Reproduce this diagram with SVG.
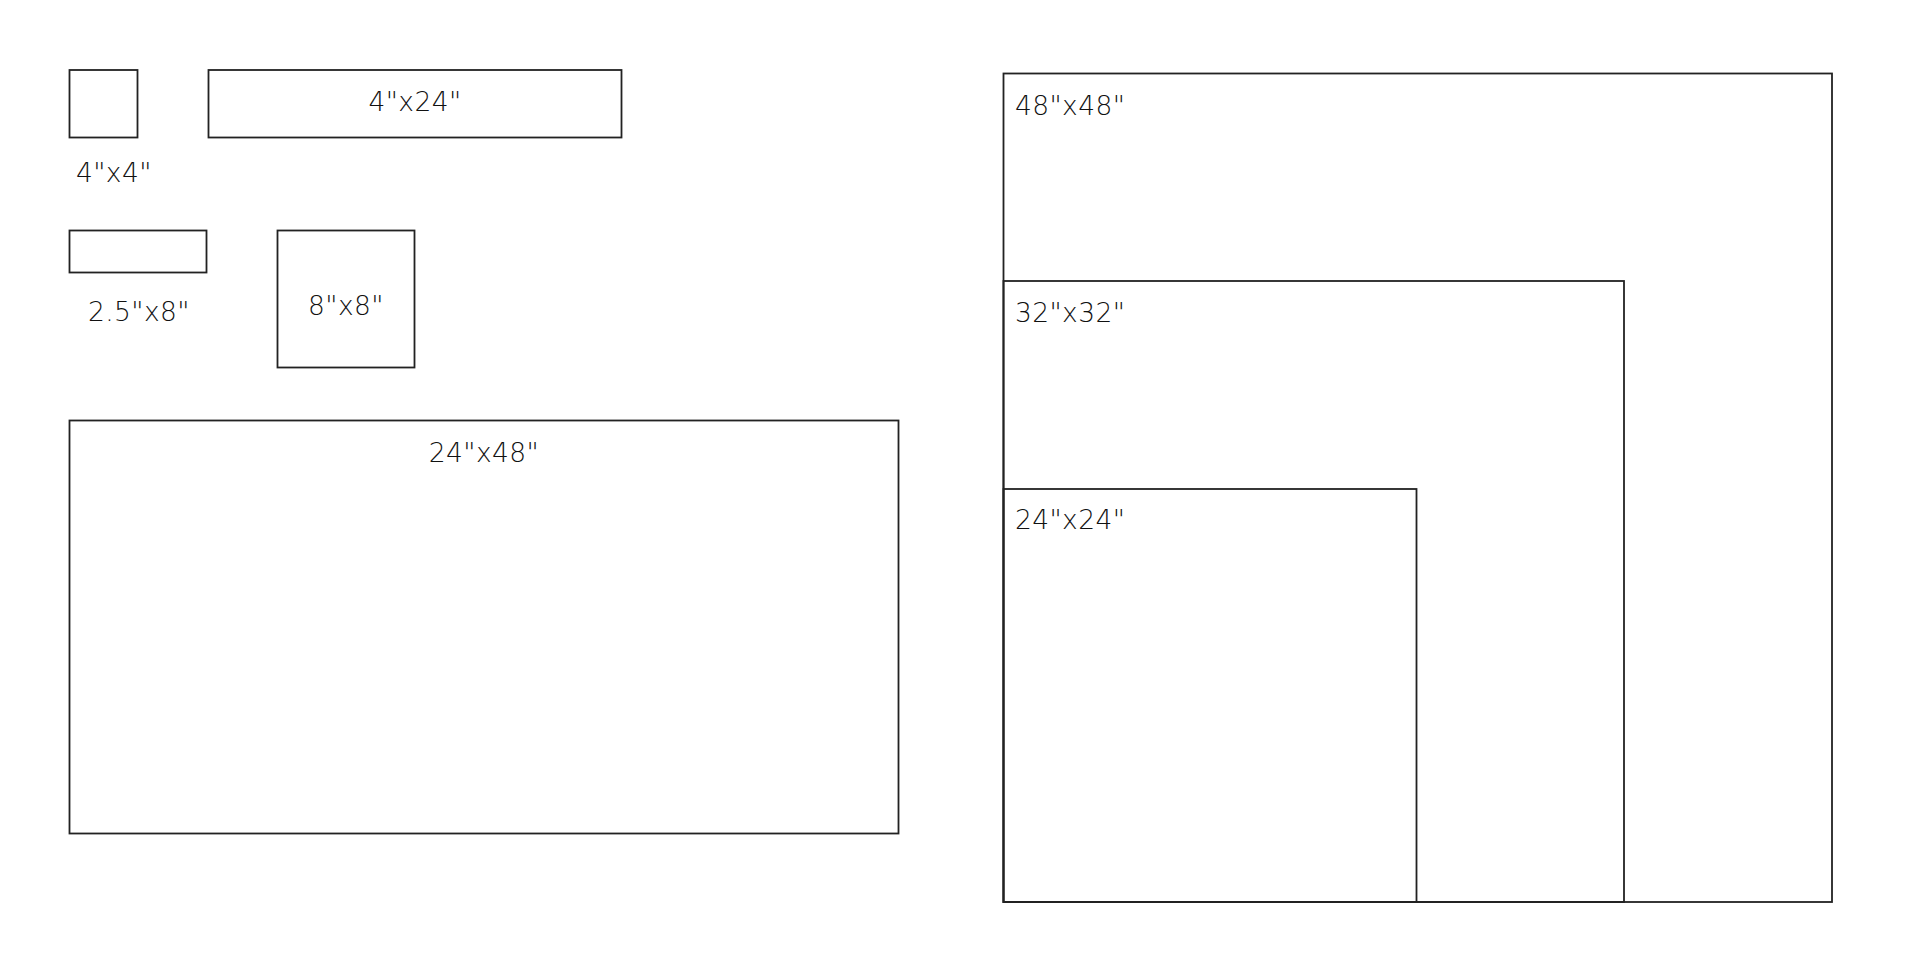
<svg xmlns="http://www.w3.org/2000/svg" width="1920" height="960" viewBox="0 0 1920 960">
<style>
.box{fill:none;stroke:#222;stroke-width:1.8}
.lbl{font-family:"DejaVu Sans","Liberation Sans",sans-serif;font-weight:200;font-size:26.5px;letter-spacing:0.4px;fill:#111}
.c{text-anchor:middle}
</style>
<rect x="0" y="0" width="1920" height="960" fill="#fff"/>
<g id="tile-4x4">
<rect class="box" x="69.5" y="70" width="68" height="67.5"/>
<text class="lbl" x="76" y="181.5">4"x4"</text>
</g>
<g id="tile-4x24">
<rect class="box" x="208.5" y="70" width="413" height="67.5"/>
<text class="lbl c" x="415" y="111">4"x24"</text>
</g>
<g id="tile-2.5x8">
<rect class="box" x="69.5" y="230.5" width="137" height="42"/>
<text class="lbl" x="88" y="320.5">2.5"x8"</text>
</g>
<g id="tile-8x8">
<rect class="box" x="277.5" y="230.5" width="137" height="137"/>
<text class="lbl c" x="346" y="315">8"x8"</text>
</g>
<g id="tile-24x48">
<rect class="box" x="69.5" y="420.5" width="829" height="413"/>
<text class="lbl c" x="484" y="461.5">24"x48"</text>
</g>
<g id="tile-48x48">
<rect class="box" x="1003.5" y="73.5" width="828.5" height="828.5"/>
<text class="lbl" x="1015" y="114.5">48"x48"</text>
</g>
<g id="tile-32x32">
<rect class="box" x="1003.5" y="281" width="620.5" height="621"/>
<text class="lbl" x="1015" y="321.5">32"x32"</text>
</g>
<g id="tile-24x24">
<rect class="box" x="1003.5" y="489" width="413" height="413"/>
<text class="lbl" x="1015" y="529">24"x24"</text>
</g>
<g id="connectors"></g>
</svg>
